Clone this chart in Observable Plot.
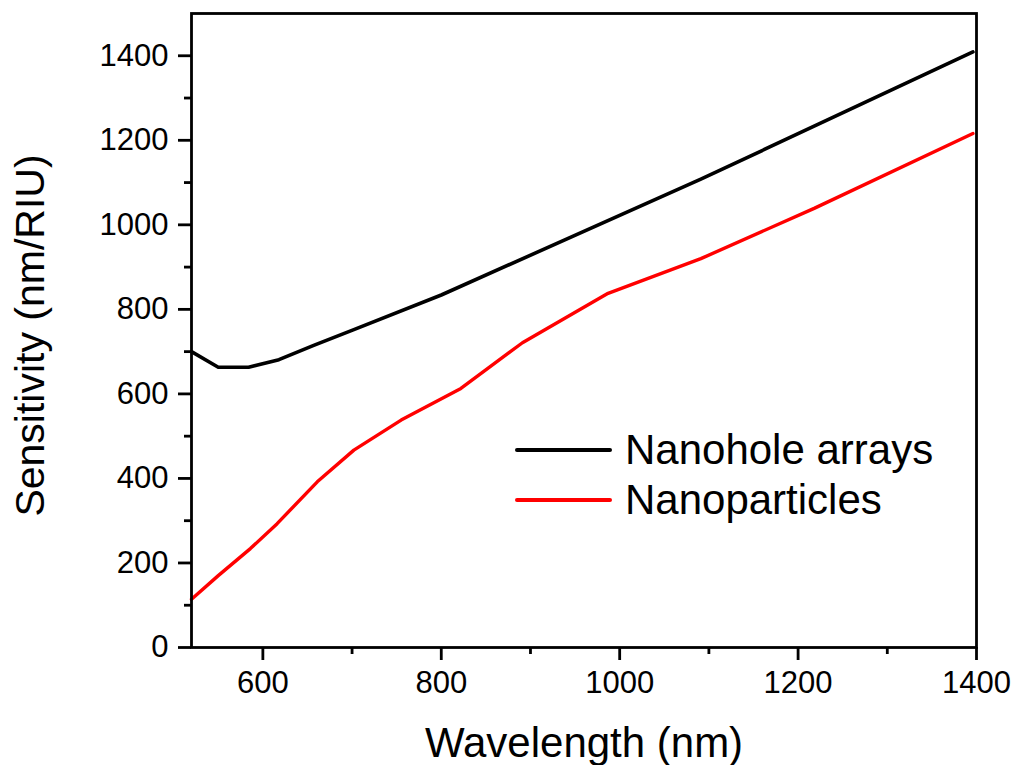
<!DOCTYPE html>
<html>
<head>
<meta charset="utf-8">
<script src="https://cdn.jsdelivr.net/npm/d3@7"></script>
<script src="https://cdn.jsdelivr.net/npm/@observablehq/plot@0.6"></script>
<style>
  html, body { margin: 0; padding: 0; background: #fff; }
  #chart { position: relative; width: 1017px; height: 765px; font-family: "Liberation Sans", Arial, sans-serif; }
  #legend { position: absolute; left: 515px; top: 425px; font-size: 42px; color: #000; }
  #legend .row { display: flex; align-items: center; height: 50px; line-height: 50px; white-space: nowrap; }
  #legend .swatch { width: 97px; height: 3.5px; margin-right: 13px; border-radius: 2px; }
</style>
</head>
<body>
<div id="chart"></div>
<script>
// Sensitivity versus resonance wavelength
const seriesNames = ["Nanohole arrays", "Nanoparticles"];
const seriesColors = ["#000000", "#ff0000"];

const holeWavelength = [520, 550, 584, 618, 657, 702, 800, 1091, 1396];
const holeSensitivity = [700, 663, 663, 681, 715, 752, 834, 1108, 1409];

const particleWavelength = [520, 550, 586, 616, 661, 702, 755, 822, 891, 987, 1091, 1218, 1396];
const particleSensitivity = [114, 170, 234, 293, 392, 467, 538, 613, 721, 838, 920, 1039, 1216];

const xTicks = [600, 800, 1000, 1200, 1400];
const xMinorTicks = [700, 900, 1100, 1300];
const yTicks = [0, 200, 400, 600, 800, 1000, 1200, 1400];
const yMinorTicks = [100, 300, 500, 700, 900, 1100, 1300];

const holes = holeWavelength.map((w, i) => ({wavelength: w, sensitivity: holeSensitivity[i]}));
const particles = particleWavelength.map((w, i) => ({wavelength: w, sensitivity: particleSensitivity[i]}));

const tickFont = 31;

const chart = Plot.plot({
  width: 1017,
  height: 765,
  marginLeft: 191,
  marginRight: 41,
  marginTop: 13,
  marginBottom: 118,
  style: {fontFamily: "'Liberation Sans', Arial, sans-serif", fontSize: tickFont + "px", color: "#000", background: "#fff"},
  x: {domain: [520, 1400]},
  y: {domain: [0, 1500]},
  marks: [
    Plot.line(particles, {x: "wavelength", y: "sensitivity", stroke: seriesColors[1], strokeWidth: 3.4}),
    Plot.line(holes, {x: "wavelength", y: "sensitivity", stroke: seriesColors[0], strokeWidth: 3.6}),
    Plot.frame({stroke: "#000", strokeWidth: 2.8}),
    Plot.axisX({ticks: xTicks, tickSize: 13, tickPadding: 10, strokeWidth: 2.8, fontSize: tickFont, tickFormat: d => String(d), label: null}),
    Plot.axisX({ticks: xMinorTicks, tickSize: 7, strokeWidth: 2.8, text: null, label: null}),
    Plot.axisY({ticks: yTicks, tickSize: 13, tickPadding: 10, strokeWidth: 2.8, fontSize: tickFont, tickFormat: d => String(d), label: null}),
    Plot.axisY({ticks: yMinorTicks, tickSize: 7, strokeWidth: 2.8, text: null, label: null}),
    Plot.text(["Wavelength (nm)"], {frameAnchor: "bottom", text: d => d, dy: 109, textAnchor: "middle", lineAnchor: "bottom", fontSize: 42, fill: "#000"}),
    Plot.text(["Sensitivity (nm/RIU)"], {frameAnchor: "left", text: d => d, dx: -148, dy: 5, rotate: -90, textAnchor: "middle", lineAnchor: "bottom", fontSize: 41, fill: "#000"})
  ]
});

const container = document.getElementById("chart");
container.appendChild(chart);

// Legend overlay inside the plot area
const legend = document.createElement("div");
legend.id = "legend";
seriesNames.forEach((name, i) => {
  const row = document.createElement("div");
  row.className = "row";
  const sw = document.createElement("span");
  sw.className = "swatch";
  sw.style.background = seriesColors[i];
  const label = document.createElement("span");
  label.textContent = name;
  row.appendChild(sw);
  row.appendChild(label);
  legend.appendChild(row);
});
container.appendChild(legend);
</script>
</body>
</html>
